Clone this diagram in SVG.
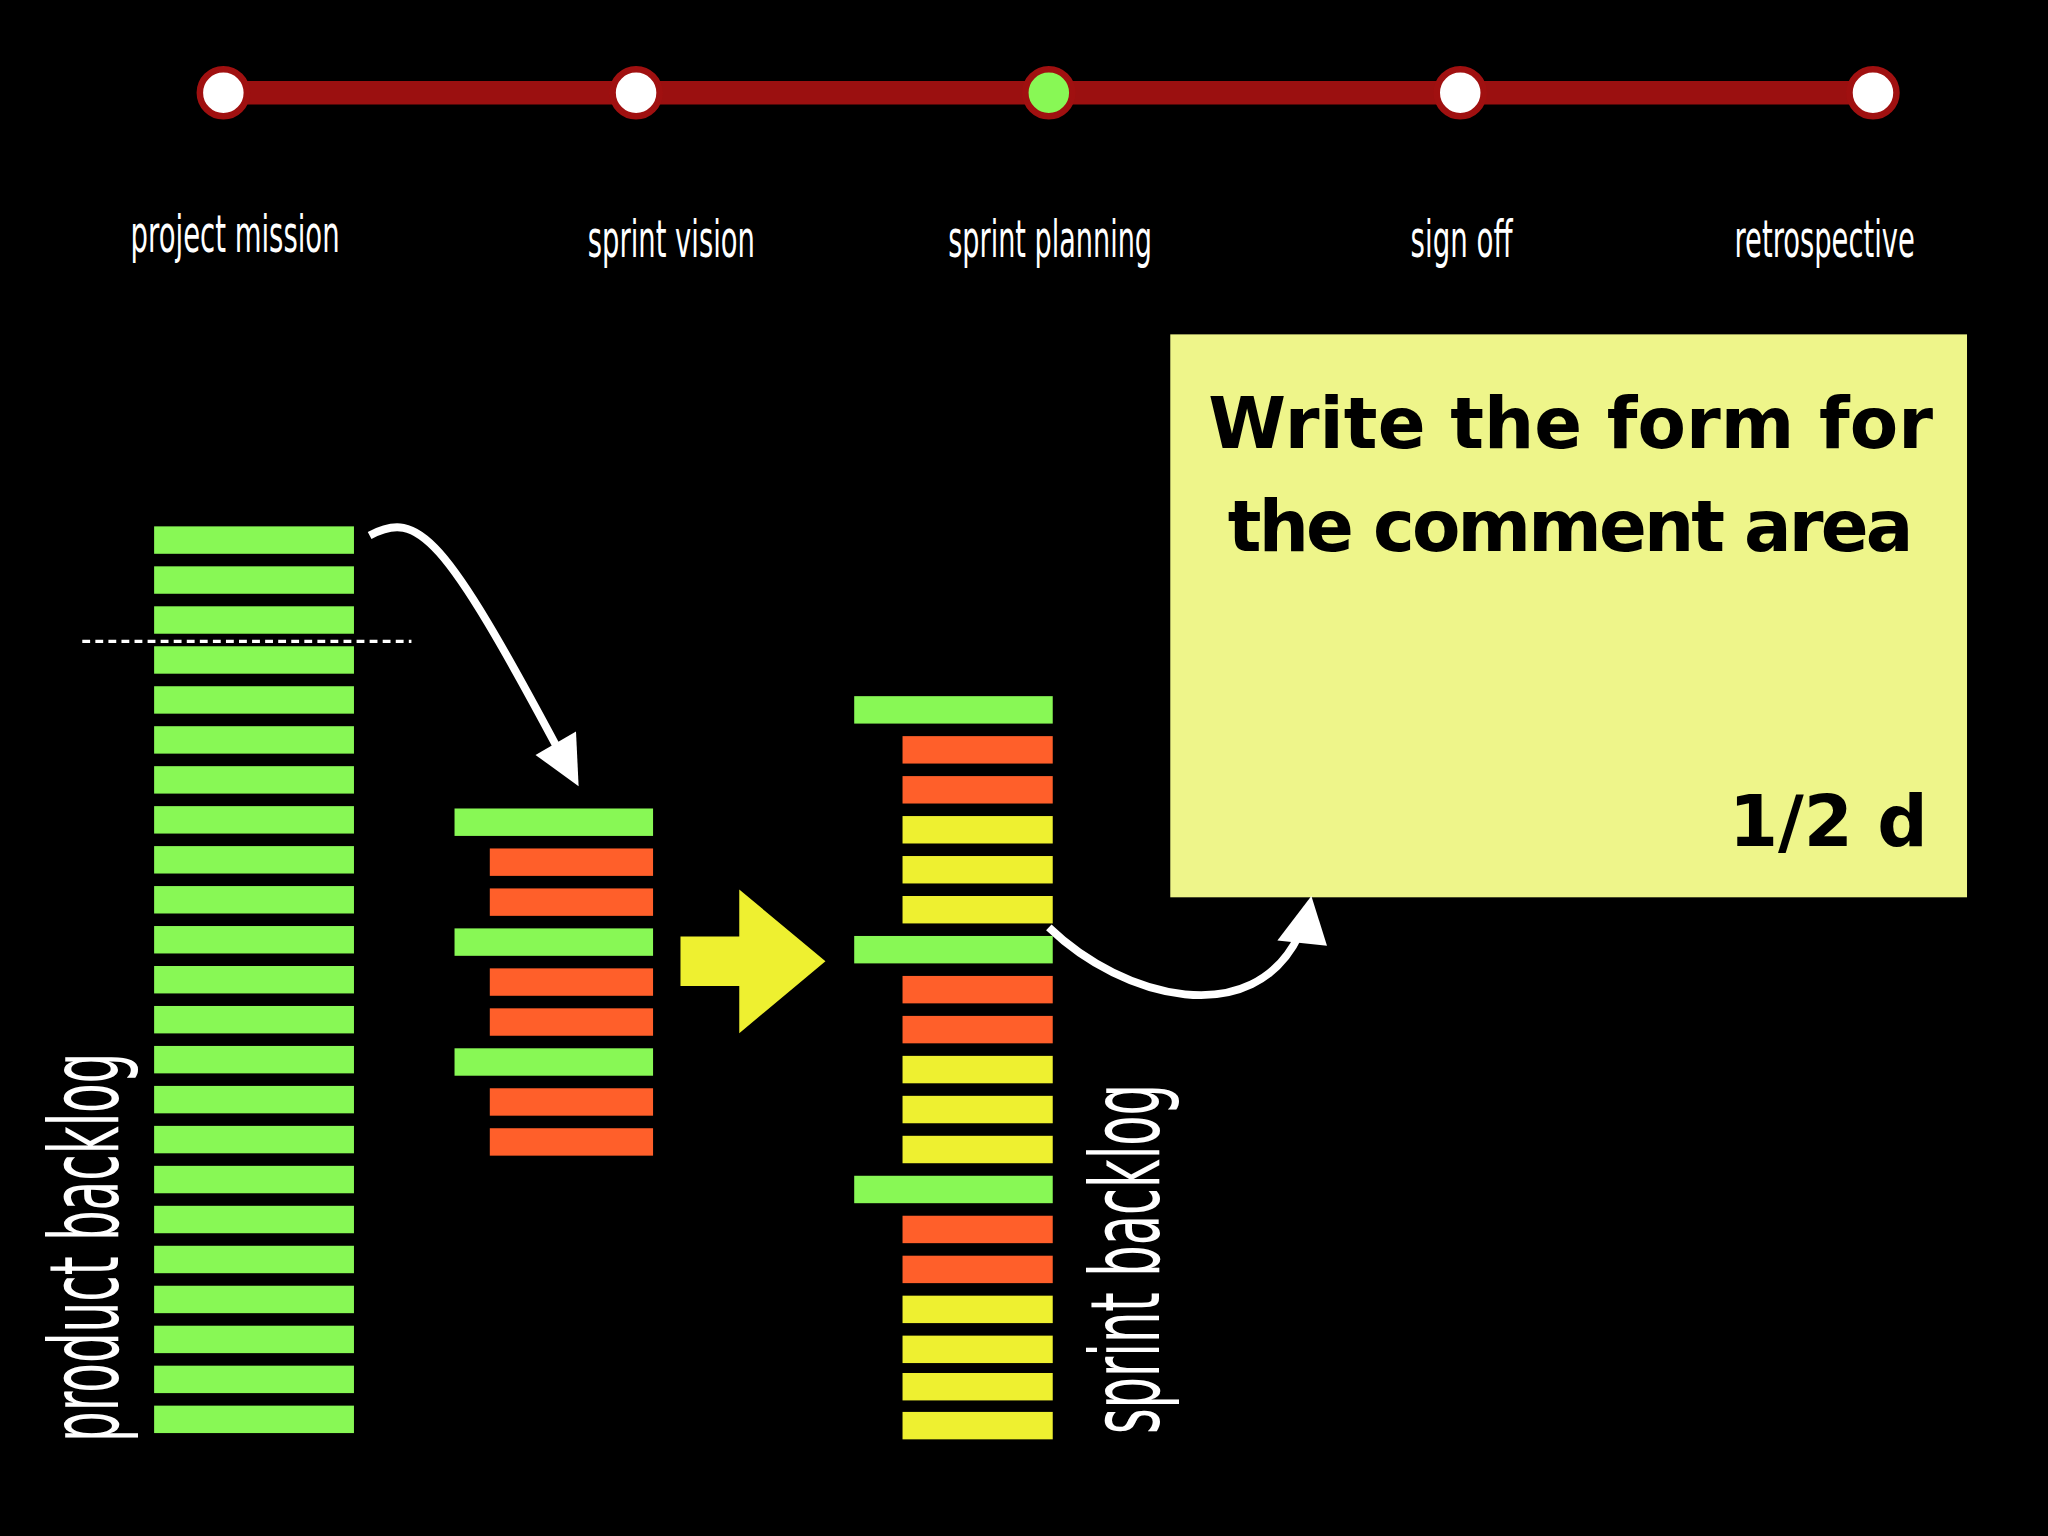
<svg xmlns="http://www.w3.org/2000/svg" width="2048" height="1536" viewBox="0 0 2048 1536">
<style>
.g{fill:#88f855}.o{fill:#ff5f2a}.y{fill:#eef030}
.lbl{fill:#fff;font-family:"DejaVu Sans Condensed","Liberation Sans",sans-serif;font-size:40px;text-anchor:middle}
.node{fill:#fff;stroke:#a01010;stroke-width:5}
.note{fill:#000;font-family:"DejaVu Sans",sans-serif;font-weight:bold;font-size:54px}
.wire{fill:none;stroke:#fff;stroke-width:6}
</style>
<rect width="2048" height="1536" fill="#000"/>
<g transform="scale(1.30612)">
<g id="timeline">
<line x1="171" y1="71" x2="1434" y2="71" stroke="#9b1010" stroke-width="18"/>
<circle class="node" cx="171" cy="71" r="18"/>
<circle class="node" cx="487" cy="71" r="18"/>
<circle class="node" cx="803" cy="71" r="18" style="fill:#88f855"/>
<circle class="node" cx="1118" cy="71" r="18"/>
<circle class="node" cx="1434" cy="71" r="18"/>
<text class="lbl" x="180" y="193" textLength="160" lengthAdjust="spacingAndGlyphs">project mission</text>
<text class="lbl" x="514" y="197" textLength="128" lengthAdjust="spacingAndGlyphs">sprint vision</text>
<text class="lbl" x="804" y="197" textLength="156" lengthAdjust="spacingAndGlyphs">sprint planning</text>
<text class="lbl" x="1119" y="197" textLength="78" lengthAdjust="spacingAndGlyphs">sign off</text>
<text class="lbl" x="1397" y="197" textLength="138" lengthAdjust="spacingAndGlyphs">retrospective</text>
</g>
<g id="product-backlog">
<g class="g">
<rect x="118" y="403" width="153" height="21"/><rect x="118" y="433.6" width="153" height="21"/><rect x="118" y="464.2" width="153" height="21"/><rect x="118" y="494.8" width="153" height="21"/><rect x="118" y="525.4" width="153" height="21"/><rect x="118" y="556" width="153" height="21"/><rect x="118" y="586.6" width="153" height="21"/><rect x="118" y="617.2" width="153" height="21"/><rect x="118" y="647.8" width="153" height="21"/><rect x="118" y="678.4" width="153" height="21"/><rect x="118" y="709" width="153" height="21"/><rect x="118" y="739.6" width="153" height="21"/><rect x="118" y="770.2" width="153" height="21"/><rect x="118" y="800.8" width="153" height="21"/><rect x="118" y="831.4" width="153" height="21"/><rect x="118" y="862" width="153" height="21"/><rect x="118" y="892.6" width="153" height="21"/><rect x="118" y="923.2" width="153" height="21"/><rect x="118" y="953.8" width="153" height="21"/><rect x="118" y="984.4" width="153" height="21"/><rect x="118" y="1015" width="153" height="21"/><rect x="118" y="1045.6" width="153" height="21"/><rect x="118" y="1076.2" width="153" height="21"/>
</g>
<line x1="63" y1="491" x2="315" y2="491" stroke="#fff" stroke-width="2.5" stroke-dasharray="6,4"/>
<text transform="translate(90,1104) rotate(-90)" fill="#fff" font-family="DejaVu Sans Condensed,Liberation Sans,sans-serif" font-size="74" textLength="298" lengthAdjust="spacingAndGlyphs">product backlog</text>
</g>
<g id="sprint-vision">
<rect class="g" x="348" y="619" width="152" height="21"/>
<rect class="o" x="375" y="649.6" width="125" height="21"/>
<rect class="o" x="375" y="680.2" width="125" height="21"/>
<rect class="g" x="348" y="710.8" width="152" height="21"/>
<rect class="o" x="375" y="741.4" width="125" height="21"/>
<rect class="o" x="375" y="772" width="125" height="21"/>
<rect class="g" x="348" y="802.6" width="152" height="21"/>
<rect class="o" x="375" y="833.2" width="125" height="21"/>
<rect class="o" x="375" y="863.8" width="125" height="21"/>
</g>
<g id="big-arrow">
<polygon class="y" points="521,717 566,717 566,681 632,736 566,791 566,755 521,755"/>
</g>
<g id="sprint-backlog">
<rect class="g" x="654" y="533" width="152" height="21"/>
<rect class="o" x="691" y="563.6" width="115" height="21"/>
<rect class="o" x="691" y="594.2" width="115" height="21"/>
<rect class="y" x="691" y="624.8" width="115" height="21"/>
<rect class="y" x="691" y="655.4" width="115" height="21"/>
<rect class="y" x="691" y="686" width="115" height="21"/>
<rect class="g" x="654" y="716.6" width="152" height="21"/>
<rect class="o" x="691" y="747.2" width="115" height="21"/>
<rect class="o" x="691" y="777.8" width="115" height="21"/>
<rect class="y" x="691" y="808.4" width="115" height="21"/>
<rect class="y" x="691" y="839" width="115" height="21"/>
<rect class="y" x="691" y="869.6" width="115" height="21"/>
<rect class="g" x="654" y="900.2" width="152" height="21"/>
<rect class="o" x="691" y="930.8" width="115" height="21"/>
<rect class="o" x="691" y="961.4" width="115" height="21"/>
<rect class="y" x="691" y="992" width="115" height="21"/>
<rect class="y" x="691" y="1022.6" width="115" height="21"/>
<rect class="y" x="691" y="1051.2" width="115" height="21"/>
<rect class="y" x="691" y="1081" width="115" height="21"/>
<text transform="translate(887,1098) rotate(-90)" fill="#fff" font-family="DejaVu Sans Condensed,Liberation Sans,sans-serif" font-size="74" textLength="268" lengthAdjust="spacingAndGlyphs">sprint backlog</text>
</g>
<g id="note">
<rect x="896" y="256" width="610" height="431" fill="#eef58a"/>
<text class="note" x="925" y="343" textLength="555" lengthAdjust="spacing">Write the form for</text>
<text class="note" x="940" y="422" textLength="525" lengthAdjust="spacing">the comment area</text>
<text class="note" x="1476" y="648" text-anchor="end">1/2 d</text>
</g>
<g id="connectors">
<path class="wire" d="M283,410 C320,390 340,410 428,575"/>
<polygon fill="#fff" points="410,578 443,602 441,560"/>
<path class="wire" d="M803,710 C860,765 960,790 995,715"/>
<polygon fill="#fff" points="978,720 1004,686 1016,724"/>
</g>
</g>
</svg>
